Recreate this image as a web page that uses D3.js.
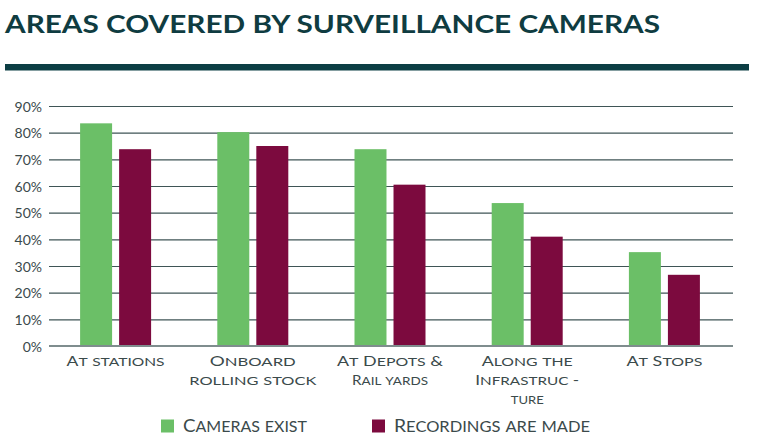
<!DOCTYPE html>
<html>
<head>
<meta charset="utf-8">
<script src="https://cdn.jsdelivr.net/npm/d3@7"></script>
<style>
  html, body { margin: 0; padding: 0; background: #fff; }
  svg { display: block; }
</style>
</head>
<body>
<svg id="chart" width="760" height="448"></svg>
<script>
const title = "AREAS COVERED BY SURVEILLANCE CAMERAS";
const categories = ["At stations", "Onboard rolling stock", "At Depots & Rail yards", "Along the Infrastruc-ture", "At Stops"];
const categoryLines = [["At stations"], ["Onboard", "rolling stock"], ["At Depots &", "Rail yards"], ["Along the", "Infrastruc -", "ture"], ["At Stops"]];
const categoryLineWidths = [[98], [86, 127], [106, 76], [91, 104, 33], [76]];
const seriesNames = ["Cameras exist", "Recordings are made"];
const legendWidths = [124, 196];
const camerasExist = [83.5, 80.2, 73.8, 53.6, 35.2];
const recordingsMade = [73.8, 75.0, 60.5, 41.0, 26.7];
const yTicks = [0, 10, 20, 30, 40, 50, 60, 70, 80, 90];
const colors = ["#6bbf67", "#7c0a3e"];

const seriesValues = [camerasExist, recordingsMade];
const svg = d3.select("#chart");
const textColor = "#3b4a4b";

// Small-caps renderer: uppercase letters full size, lowercase as smaller capitals
function smallCaps(textSel, str, big, small) {
  const runs = [];
  for (const ch of str) {
    const isSmall = ch !== ch.toUpperCase();
    const last = runs[runs.length - 1];
    if (last && last.small === isSmall) last.text += ch;
    else runs.push({ small: isSmall, text: ch });
  }
  runs.forEach(r => {
    textSel.append("tspan")
      .attr("font-size", r.small ? small : big)
      .text(r.small ? r.text.toUpperCase() : r.text);
  });
}

// Title
svg.append("text")
  .attr("x", 5).attr("y", 33)
  .attr("fill", "#0f3c41")
  .attr("font-family", "Lato, 'Open Sans', sans-serif")
  .attr("font-weight", 700)
  .attr("font-size", 25.5)
  .attr("textLength", 655)
  .attr("lengthAdjust", "spacingAndGlyphs")
  .text(title);

svg.append("rect")
  .attr("x", 5).attr("y", 64).attr("width", 744).attr("height", 6.5)
  .attr("fill", "#0c3e44");

const x0 = d3.scaleBand().domain(categories).range([47, 733]).paddingInner(0);
const x1 = d3.scaleBand().domain(seriesNames)
  .range([x0.bandwidth() / 2 - 35.5, x0.bandwidth() / 2 + 35.5])
  .paddingInner(0.18);
const y = d3.scaleLinear().domain([0, 90]).range([346, 106]);

// Gridlines + tick labels
const yAxis = d3.axisLeft(y)
  .tickValues(yTicks)
  .tickFormat(d => d + "%")
  .tickSize(-(733 - 49))
  .tickPadding(7);
const gy = svg.append("g").attr("transform", "translate(49,0)").call(yAxis);
gy.select(".domain").remove();
gy.selectAll(".tick line")
  .attr("stroke", "#3f5556")
  .attr("stroke-width", 1.2);
gy.selectAll(".tick text")
  .attr("fill", textColor)
  .attr("font-family", "Lato, sans-serif")
  .attr("font-size", 14)
  .attr("dy", "0.36em");

// Bars
const groups = svg.append("g").selectAll("g")
  .data(categories)
  .join("g")
  .attr("transform", d => `translate(${x0(d)},0)`);

groups.selectAll("rect")
  .data((d, i) => seriesNames.map((s, j) => ({ s, j, v: seriesValues[j][i] })))
  .join("rect")
  .attr("x", d => x1(d.s))
  .attr("width", x1.bandwidth())
  .attr("y", d => y(d.v))
  .attr("height", d => y(0) - y(d.v))
  .attr("fill", d => colors[d.j]);

// Baseline
svg.append("line")
  .attr("x1", 49).attr("x2", 733)
  .attr("y1", y(0)).attr("y2", y(0))
  .attr("stroke", "#7f8d8e")
  .attr("stroke-width", 2);

// Category labels
const labels = svg.append("g")
  .attr("font-family", "Lato, sans-serif")
  .attr("fill", textColor)
  .attr("text-anchor", "middle");

categories.forEach((c, i) => {
  const cx = x0(c) + x0.bandwidth() / 2;
  categoryLines[i].forEach((line, k) => {
    const t = labels.append("text")
      .attr("x", cx)
      .attr("y", 366 + k * 19)
      .attr("textLength", categoryLineWidths[i][k])
      .attr("lengthAdjust", "spacingAndGlyphs");
    smallCaps(t, line, 13.5, 12);
  });
});

// Legend
const legendX = [161, 372];
const legend = svg.append("g")
  .attr("font-family", "Lato, sans-serif")
  .attr("fill", textColor);
seriesNames.forEach((s, j) => {
  legend.append("rect")
    .attr("x", legendX[j]).attr("y", 419.5)
    .attr("width", 13).attr("height", 13)
    .attr("fill", colors[j]);
  const t = legend.append("text")
    .attr("x", legendX[j] + 22).attr("y", 432)
    .attr("textLength", legendWidths[j])
    .attr("lengthAdjust", "spacingAndGlyphs");
  smallCaps(t, s, 17, 14.5);
});
</script>
</body>
</html>
